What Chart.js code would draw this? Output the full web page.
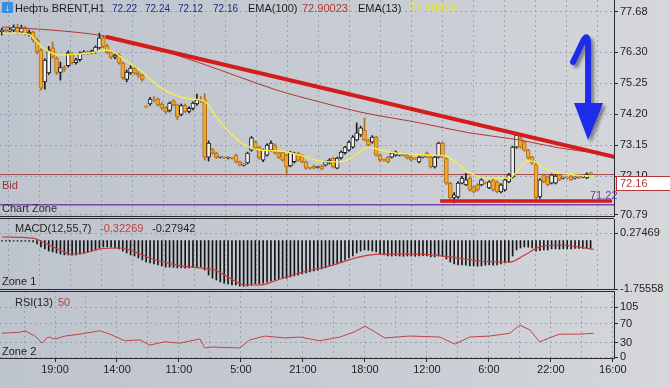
<!DOCTYPE html>
<html>
<head>
<meta charset="utf-8">
<title>Нефть BRENT,H1</title>
<script src="https://cdn.jsdelivr.net/npm/chart.js@4.4.1/dist/chart.umd.min.js"></script>
<style>
  html, body { margin: 0; padding: 0; }
  body {
    width: 670px; height: 388px; overflow: hidden; position: relative;
    background: linear-gradient(90deg, #bec4cd 0%, #c8ccd3 55%, #d5d7db 100%);
    font-family: "Liberation Sans", Arial, sans-serif; color: #1e1e1e;
  }
  canvas { position: absolute; left: 0; }
  .lbl { position: absolute; font-size: 11px; line-height: 12px; white-space: nowrap; }
  .num { font-size: 10px; }
  .sep { position: absolute; left: 0; width: 614px; height: 1px; background: #2a2a2a; }
  #icon { position: absolute; left: 2px; top: 2px; width: 11px; height: 11px; background: #3b8fe0;
          color: #fff; font-size: 10px; line-height: 11px; text-align: center; border-radius: 1px; }
</style>
</head>
<body>
<canvas id="price" width="670" height="236" style="top:-10px"></canvas>
<canvas id="macd" width="670" height="90" style="top:209px"></canvas>
<canvas id="rsi" width="670" height="107" style="top:281px"></canvas>

<div class="sep" style="top:216px"></div>
<div class="sep" style="top:218px"></div>
<div class="sep" style="top:289px"></div>
<div class="sep" style="top:291px"></div>

<div id="icon">&#8595;</div>
<div class="lbl" style="left:15px;top:2px">Нефть BRENT,H1</div>
<div class="lbl num" style="left:112px;top:3px;color:#1f2b86">72.22</div>
<div class="lbl num" style="left:145px;top:3px;color:#1f2b86">72.24</div>
<div class="lbl num" style="left:178px;top:3px;color:#1f2b86">72.12</div>
<div class="lbl num" style="left:213px;top:3px;color:#1f2b86">72.16</div>
<div class="lbl" style="left:248px;top:2px">EMA(100)</div>
<div class="lbl" style="left:302px;top:2px;color:#b83434">72.90023</div>
<div class="lbl" style="left:358px;top:2px">EMA(13)</div>
<div class="lbl" style="left:410px;top:2px;color:#e6e23a">72.10019</div>

<div class="lbl" style="left:2px;top:179px;color:#9c3030">Bid</div>
<div class="lbl" style="left:2px;top:202px;color:#2a2a2a">Chart Zone</div>
<div class="lbl" style="left:590px;top:189px;color:#6a3aa0">71.22</div>

<div class="lbl" style="left:15px;top:222px">MACD(12,55,7)</div>
<div class="lbl" style="left:100px;top:222px;color:#c43c3c">-0.32269</div>
<div class="lbl" style="left:152px;top:222px">-0.27942</div>
<div class="lbl" style="left:2px;top:275px">Zone 1</div>

<div class="lbl" style="left:15px;top:296px">RSI(13)</div>
<div class="lbl" style="left:58px;top:296px;color:#c43c3c">50</div>
<div class="lbl" style="left:2px;top:345px">Zone 2</div>

<script>
// bottom time axis and right-hand tick values
const timeLabels = ['19:00', '14:00', '11:00', '5:00', '21:00', '18:00', '12:00', '6:00', '22:00', '16:00'];
const priceTicks = [77.68, 76.30, 75.25, 74.20, 73.15, 72.10, 70.79];
const macdTicks = [0.27469, -1.75558];
const rsiTicks = [105, 70, 30, 0];

// H1 candles, oldest first
const opens = [76.99,77.06,77.02,77.05,77.15,76.98,77.12,76.92,76.99,76.72,
  76.38,75.30,75.60,76.45,76.10,75.62,75.78,75.85,76.25,75.95,
  76.05,76.28,76.31,76.28,76.31,76.45,76.79,76.52,76.30,76.14,
  76.20,75.94,75.38,75.60,75.77,75.60,75.53,74.46,74.55,74.72,
  74.72,74.55,74.43,74.33,74.66,74.52,74.20,74.50,74.30,74.40,
  74.55,74.69,74.69,72.75,73.00,72.89,72.75,72.73,72.72,72.72,
  72.82,72.59,72.48,72.55,72.99,73.26,73.09,72.65,72.82,72.99,
  73.16,72.89,72.92,72.82,72.45,72.60,72.89,72.80,72.59,72.38,
  72.45,72.40,72.45,72.48,72.55,72.72,72.38,72.72,72.90,72.99,
  73.09,73.33,73.50,73.67,73.33,73.26,73.43,72.82,72.65,72.75,
  72.75,72.82,72.82,72.82,72.82,72.75,72.70,72.59,72.75,72.89,
  72.75,72.42,72.75,73.23,72.70,71.87,71.37,71.40,71.87,71.81,
  72.04,71.74,71.81,71.81,71.88,71.71,71.98,71.91,71.57,71.64,
  71.91,72.08,73.09,73.40,73.26,72.99,72.75,72.50,71.40,72.15,
  72.08,71.87,71.87,72.15,72.04,72.05,72.11,72.04,72.15,72.08,
  72.05,72.22];
const highs = [77.12,77.10,77.12,77.23,77.25,77.22,77.18,77.05,77.02,76.78,
  76.42,76.08,76.50,76.65,76.15,75.97,75.85,76.35,76.30,76.10,
  76.32,76.36,76.35,76.38,76.52,76.95,76.88,76.58,76.35,76.25,
  76.26,75.98,75.70,75.85,75.82,75.65,75.56,74.48,74.78,74.80,
  74.76,74.60,74.46,74.62,74.70,74.55,74.55,74.55,74.45,74.62,
  74.89,74.80,74.90,73.30,73.05,72.92,72.78,72.75,72.75,72.74,
  72.85,72.62,72.52,72.92,73.45,73.30,73.12,73.02,73.20,73.30,
  73.20,72.92,72.95,72.85,72.95,72.92,72.92,72.84,72.62,72.40,
  72.48,72.43,72.48,72.62,72.70,72.75,72.75,72.96,73.12,73.30,
  73.48,73.91,73.80,74.08,73.36,73.48,73.46,72.86,72.68,72.78,
  72.92,72.96,72.86,72.85,72.85,72.78,72.73,72.79,72.79,72.92,
  72.78,72.78,73.26,73.26,72.75,71.90,71.55,71.92,72.10,72.20,
  72.08,71.78,71.85,72.02,71.91,71.95,72.02,71.95,71.85,72.02,
  72.20,73.12,73.57,73.45,73.30,73.02,72.78,72.55,72.02,72.18,
  72.11,72.18,72.15,72.18,72.08,72.08,72.14,72.08,72.18,72.12,
  72.22,72.24];
const lows = [76.89,76.97,76.98,77.00,76.92,76.93,76.88,76.85,76.65,76.25,
  75.02,75.05,75.55,76.10,75.55,75.36,75.65,75.80,75.90,75.90,
  76.00,76.24,76.22,76.25,76.27,76.42,76.45,76.25,76.08,76.08,
  75.90,75.38,75.30,75.55,75.55,75.45,75.32,74.42,74.50,74.62,
  74.48,74.36,74.22,74.28,74.48,74.02,74.15,74.26,74.25,74.35,
  74.50,74.60,72.65,72.62,72.85,72.70,72.72,72.70,72.69,72.68,
  72.55,72.45,72.45,72.52,72.95,73.00,72.68,72.60,72.78,72.95,
  72.85,72.70,72.60,72.15,72.42,72.55,72.62,72.55,72.33,72.34,
  72.35,72.38,72.32,72.45,72.52,72.38,72.35,72.68,72.85,72.95,
  73.05,73.30,73.45,73.30,73.12,73.22,72.78,72.60,72.61,72.55,
  72.72,72.78,72.79,72.78,72.69,72.62,72.67,72.55,72.72,72.72,
  72.38,72.38,72.72,72.72,71.82,71.25,71.20,71.35,71.84,71.78,
  71.60,71.53,71.60,71.78,71.84,71.68,71.60,71.54,71.54,71.60,
  71.88,72.04,73.05,73.05,72.95,72.68,72.50,71.28,71.35,71.88,
  71.78,71.84,71.84,71.95,72.01,72.01,71.95,72.01,72.02,72.05,
  72.02,72.12];
const closes = [77.06,77.02,77.05,77.15,76.98,77.12,76.92,76.99,76.72,76.31,
  75.09,76.04,76.38,76.14,75.62,75.78,75.72,76.28,75.95,76.05,
  76.28,76.31,76.28,76.34,76.48,76.79,76.50,76.30,76.14,76.20,
  75.94,75.43,75.63,75.77,75.60,75.53,75.38,74.45,74.72,74.68,
  74.52,74.41,74.28,74.58,74.52,74.11,74.50,74.30,74.40,74.58,
  74.69,74.66,72.75,73.23,72.89,72.75,72.76,72.72,72.73,72.70,
  72.59,72.48,72.49,72.89,73.40,73.06,72.72,72.99,73.16,73.23,
  72.89,72.75,72.65,72.42,72.92,72.89,72.65,72.59,72.38,72.37,
  72.38,72.41,72.35,72.59,72.65,72.42,72.72,72.92,73.09,73.26,
  73.43,73.57,73.74,73.33,73.16,73.43,72.82,72.65,72.64,72.59,
  72.89,72.92,72.83,72.81,72.72,72.65,72.69,72.75,72.76,72.75,
  72.42,72.75,73.23,72.75,71.87,71.37,71.47,71.87,72.04,71.98,
  71.64,71.57,71.64,71.98,71.87,71.91,71.64,71.57,71.81,71.98,
  72.15,73.09,73.50,73.09,72.99,72.72,72.55,71.37,71.98,71.91,
  71.81,72.15,72.11,71.98,72.05,72.04,71.98,72.05,72.05,72.09,
  72.18,72.16];

// indicator lines as [bar, value]
const ema100 = [[0,77.16],[12.3,77.06],[26.4,76.85],[38,76.48],[50.8,75.94],[61,75.46],[70.5,75.02],
  [81.5,74.62],[91.8,74.28],[107.2,73.91],[120,73.57],[132.8,73.33],[143,73.06],[151.8,72.90]];
const ema13 = [[0,76.95],[4.6,76.95],[7.2,76.89],[9.7,76.55],[12.3,76.31],[14.9,76.21],[18.7,76.24],
  [22.6,76.28],[26.9,76.38],[29,76.28],[31.5,76.04],[35.4,75.70],[40.5,75.12],[45.6,74.79],[50.8,74.69],
  [52,74.65],[54.6,74.18],[58.5,73.57],[62.3,73.16],[66.2,72.99],[71.3,72.96],[76.4,72.82],[81.5,72.62],
  [86.7,72.59],[89.2,72.69],[91.8,72.92],[94.4,73.09],[96.9,72.99],[100.8,72.89],[104.6,72.86],
  [109.7,72.82],[113.6,72.79],[116.2,72.59],[120,72.21],[125.1,72.04],[130.3,72.04],[132.3,72.31],
  [134.6,72.62],[136.7,72.59],[138.5,72.42],[141.8,72.25],[146.9,72.15],[151.8,72.11]];

const macdHist = [-0.02,-0.02,-0.03,-0.02,-0.02,-0.03,-0.02,-0.03,-0.05,-0.12,
  -0.23,-0.30,-0.38,-0.41,-0.45,-0.49,-0.52,-0.52,-0.53,-0.52,
  -0.49,-0.45,-0.41,-0.38,-0.34,-0.27,-0.23,-0.23,-0.24,-0.27,
  -0.30,-0.38,-0.45,-0.52,-0.56,-0.63,-0.70,-0.78,-0.81,-0.85,
  -0.88,-0.92,-0.96,-0.96,-0.97,-0.99,-0.99,-1.00,-0.99,-0.98,
  -0.99,-0.96,-1.07,-1.25,-1.36,-1.43,-1.50,-1.54,-1.57,-1.61,
  -1.61,-1.65,-1.66,-1.65,-1.61,-1.57,-1.57,-1.54,-1.50,-1.46,
  -1.43,-1.39,-1.36,-1.37,-1.32,-1.28,-1.25,-1.21,-1.17,-1.14,
  -1.10,-1.07,-1.03,-0.99,-0.92,-0.88,-0.85,-0.78,-0.70,-0.63,
  -0.56,-0.45,-0.38,-0.34,-0.35,-0.38,-0.41,-0.49,-0.52,-0.56,
  -0.56,-0.55,-0.56,-0.57,-0.56,-0.56,-0.57,-0.56,-0.55,-0.56,
  -0.59,-0.59,-0.56,-0.58,-0.67,-0.78,-0.85,-0.88,-0.88,-0.89,
  -0.92,-0.92,-0.93,-0.92,-0.89,-0.88,-0.89,-0.88,-0.85,-0.81,
  -0.78,-0.56,-0.34,-0.27,-0.23,-0.24,-0.27,-0.38,-0.37,-0.34,
  -0.34,-0.30,-0.30,-0.31,-0.30,-0.30,-0.30,-0.28,-0.28,-0.28,
  -0.28,-0.28];
const macdSignal = [[0,0.13],[7.9,0.09],[11,-0.09],[14.9,-0.34],[17.4,-0.49],[21.3,-0.45],[25.1,-0.30],
  [30.3,-0.27],[34.1,-0.41],[37.9,-0.63],[44.4,-0.88],[50.8,-0.99],[54.6,-1.07],[58.5,-1.36],[62.3,-1.61],
  [66.2,-1.61],[70,-1.46],[76.4,-1.17],[84.1,-0.92],[91.8,-0.59],[96.9,-0.49],[107.2,-0.49],[114.9,-0.59],
  [122.6,-0.74],[130.3,-0.78],[134.1,-0.52],[137.9,-0.23],[143,-0.16],[151.8,-0.32]];
const rsi13 = [[0,50],[4.6,52],[5.9,55],[8.5,44],[10.3,29],[11.8,42],[13.6,38],[16.2,44],[20,48],[25.1,55],
  [27.7,48],[31.5,34],[35.4,36],[37.9,25],[41.8,32],[45.6,29],[50.8,38],[52,19],[53.8,21],[61,19],[63.6,36],
  [67.4,44],[72.6,40],[76.4,42],[81.5,34],[86.7,42],[90.5,53],[93.1,65],[95.6,53],[98.2,40],[104.6,44],
  [112.3,42],[116.2,27],[120,42],[125.1,44],[130.3,50],[132.8,67],[135.4,57],[137.9,32],[143,48],
  [148.2,48],[151.8,50]];

// hand-drawn objects on the price chart
const trendLine = [[26.95,76.82],[157,72.76]];
const supportLine = [[112.4,71.26],[156.5,71.26]];
const bidPrice = 72.16;
const zoneLevel = 71.14;
const arrow = { bar: 150.35, from: 76.82, to: 73.33 };

const X_MIN = -0.5, X_MAX = 157;
const GRID_FIRST = 5.66, GRID_STEP = 7.95;
const GRID = 'rgba(140,150,165,0.75)';
const FONT = { family: 'Liberation Sans', size: 11 };

Chart.defaults.font.family = 'Liberation Sans';

const pts = arr => arr.map(p => ({ x: p[0], y: p[1] }));
const isUp = i => closes[i] >= opens[i];

function gridTicks() {
  const t = [];
  for (let v = GRID_FIRST; v <= X_MAX; v += GRID_STEP) t.push({ value: v });
  return t;
}

function xAxis(showLabels) {
  return {
    type: 'linear', min: X_MIN, max: X_MAX, offset: false,
    afterBuildTicks: s => { s.ticks = gridTicks(); },
    afterFit: s => { s.height = showLabels ? 30 : 0; },
    grid: { color: GRID, drawTicks: showLabels, tickLength: 4,
      tickColor: c => (c.index % 2 ? '#2a2a2a' : 'rgba(0,0,0,0)') },
    border: { display: showLabels, color: '#2a2a2a', dash: [2, 3] },
    ticks: { display: showLabels, autoSkip: false, maxRotation: 0, padding: 1, color: '#222', font: FONT,
      callback: (v, i) => (i % 2 ? timeLabels[(i - 1) / 2] : '') }
  };
}

function yAxis(min, max, ticks, fmt) {
  return {
    position: 'right', min: min, max: max,
    afterBuildTicks: s => { s.ticks = ticks.map(v => ({ value: v })); },
    afterFit: s => { s.width = 56; },
    grid: { color: GRID, tickColor: '#2a2a2a', tickLength: 4 },
    border: { display: true, color: '#2a2a2a', dash: [2, 3] },
    ticks: { autoSkip: false, padding: 2, color: '#222', font: FONT, callback: fmt }
  };
}

const common = {
  responsive: false, animation: false, events: [],
  plugins: { legend: { display: false }, tooltip: { enabled: false } }
};

const overlay = {
  id: 'overlay',
  afterDraw(chart) {
    const { ctx, scales: { x, y } } = chart;
    ctx.save();
    // current bid box on the price axis
    const by = Math.round(y.getPixelForValue(bidPrice));
    ctx.fillStyle = '#ffffff';
    ctx.strokeStyle = '#b03a3a';
    ctx.lineWidth = 1;
    ctx.fillRect(x.right + 2.5, by + 1.5, 56, 14);
    ctx.strokeRect(x.right + 2.5, by + 1.5, 56, 14);
    ctx.fillStyle = '#b03a3a';
    ctx.font = '11px "Liberation Sans"';
    ctx.textBaseline = 'middle';
    ctx.fillText(bidPrice.toFixed(2), x.right + 6, by + 9);

    // blue arrow
    const ax = x.getPixelForValue(arrow.bar);
    const top = y.getPixelForValue(arrow.from);
    const tip = y.getPixelForValue(arrow.to);
    ctx.shadowColor = 'rgba(30,30,50,0.45)';
    ctx.shadowBlur = 3; ctx.shadowOffsetX = 3; ctx.shadowOffsetY = 3;
    ctx.strokeStyle = '#1d2bea';
    ctx.fillStyle = '#1d2bea';
    ctx.lineWidth = 6; ctx.lineCap = 'round'; ctx.lineJoin = 'round';
    ctx.beginPath();
    ctx.moveTo(ax - 15, top + 25);
    ctx.lineTo(ax - 5, top + 4);
    ctx.quadraticCurveTo(ax, top - 5, ax, top + 8);
    ctx.lineTo(ax, tip - 34);
    ctx.stroke();
    ctx.beginPath();
    ctx.moveTo(ax - 14, tip - 37);
    ctx.lineTo(ax + 15, tip - 37);
    ctx.lineTo(ax, tip);
    ctx.closePath();
    ctx.fill();
    ctx.restore();
  }
};

new Chart(document.getElementById('price'), {
  type: 'bar',
  data: {
    datasets: [
      { type: 'line', data: pts(trendLine), borderColor: '#d41c1c', borderWidth: 4, pointRadius: 0, borderCapStyle: 'round', order: 0 },
      { type: 'line', data: pts(supportLine), borderColor: '#d41c1c', borderWidth: 3.5, pointRadius: 0, order: 0 },
      { type: 'line', data: pts(ema13), borderColor: '#f4ee4c', borderWidth: 1.4, pointRadius: 0, cubicInterpolationMode: 'monotone', order: 1 },
      { type: 'line', data: pts(ema100), borderColor: '#b03636', borderWidth: 1, pointRadius: 0, cubicInterpolationMode: 'monotone', order: 2 },
      { type: 'bar', data: opens.map((o, i) => ({ x: i, y: [o, closes[i]] })),
        backgroundColor: c => (isUp(c.dataIndex) ? '#f0f0f0' : '#f2a82a'),
        borderColor: c => (isUp(c.dataIndex) ? '#1c1c1c' : '#b06e18'),
        borderWidth: 1, borderSkipped: false, barThickness: 4, minBarLength: 1, grouped: false, order: 3 },
      { type: 'bar', data: opens.map((o, i) => ({ x: i, y: [lows[i], highs[i]] })),
        backgroundColor: c => (isUp(c.dataIndex) ? '#1c1c1c' : '#b06e18'),
        borderWidth: 0, barThickness: 1, grouped: false, order: 4 },
      { type: 'line', data: [{ x: X_MIN, y: bidPrice }, { x: X_MAX, y: bidPrice }], borderColor: '#a04848', borderWidth: 1, pointRadius: 0, order: 5 },
      { type: 'line', data: [{ x: X_MIN, y: zoneLevel }, { x: X_MAX, y: zoneLevel }], borderColor: '#7b44b0', borderWidth: 1.5, pointRadius: 0, order: 5 }
    ]
  },
  options: Object.assign({}, common, {
    layout: { padding: { left: 0, right: 0, top: 10, bottom: 10 } },
    scales: {
      x: xAxis(false),
      y: yAxis(70.756, 78.073, priceTicks, v => v.toFixed(2))
    }
  }),
  plugins: [overlay]
});

new Chart(document.getElementById('macd'), {
  type: 'bar',
  data: {
    datasets: [
      { type: 'line', data: pts(macdSignal), borderColor: '#c83c3c', borderWidth: 1.2, pointRadius: 0, cubicInterpolationMode: 'monotone', order: 0 },
      { type: 'bar', data: macdHist.map((v, i) => ({ x: i, y: v })), backgroundColor: '#151515', barThickness: 1, order: 1 }
    ]
  },
  options: Object.assign({}, common, {
    layout: { padding: { left: 0, right: 0, top: 10, bottom: 10 } },
    scales: {
      x: xAxis(false),
      y: yAxis(-1.75558, 0.7823, macdTicks, v => v.toFixed(5))
    }
  })
});

new Chart(document.getElementById('rsi'), {
  type: 'line',
  data: {
    datasets: [
      { data: pts(rsi13), borderColor: '#c04444', borderWidth: 1, pointRadius: 0 }
    ]
  },
  options: Object.assign({}, common, {
    layout: { padding: { left: 0, right: 0, top: 10, bottom: 0 } },
    scales: {
      x: xAxis(true),
      y: yAxis(-2.1, 138.6, rsiTicks, v => String(v))
    }
  })
});
</script>
</body>
</html>
